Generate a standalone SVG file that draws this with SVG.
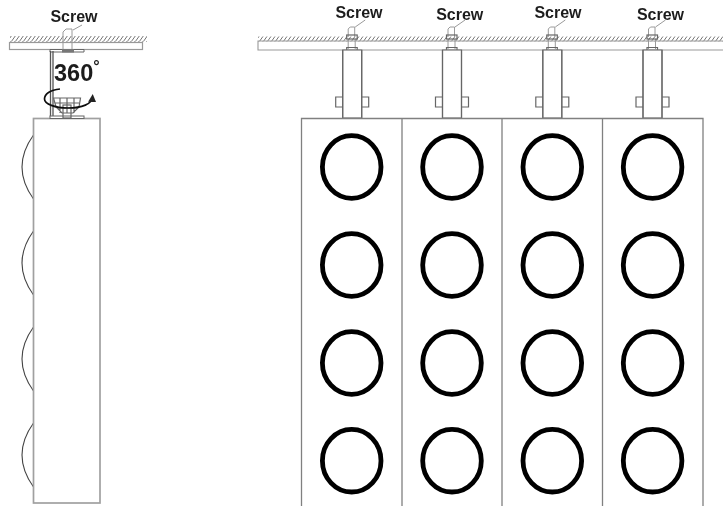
<svg xmlns="http://www.w3.org/2000/svg" xmlns:xlink="http://www.w3.org/1999/xlink" width="723" height="506" viewBox="0 0 723 506">
<defs>
<filter id="soft" x="0" y="0" width="100%" height="100%"><feGaussianBlur stdDeviation="0.45"/></filter>
<pattern id="hatch" width="4" height="5" patternUnits="userSpaceOnUse" patternTransform="translate(0 36)">
<path d="M-1 6L4 -1M3 6L8 -1" stroke="#666" stroke-width="0.9" fill="none"/>
</pattern>
<marker id="arr" markerWidth="9" markerHeight="9" refX="5" refY="4.500" orient="auto" markerUnits="userSpaceOnUse">
<path d="M0 0.500L8 4.500L0 8.500Z" fill="#222"/>
</marker>
<g id="mount">
<path class="t" d="M-4 -4V-12L-2 -14H2.500V-4M-4 -2V8M3 -2V8M3 -14L13 -21"/>
<rect class="s" x="-5.500" y="-6" width="10.500" height="4"/>
<path class="s" d="M-5.500 9V6.500H5V9"/>
<rect class="w" x="-9.500" y="9" width="19" height="68"/>
<path class="s" d="M-9.500 9V77M9.500 9V77" stroke-width="1.800"/>
<path class="s" d="M-9.500 56H-16.500V66H-9.500M9.500 56H16.500V66H9.500"/>
</g>
<g id="lens"><ellipse class="l" rx="29.300" ry="31.300"/></g>
</defs>
<style>
text{font-family:"Liberation Sans",Arial,sans-serif;font-weight:700;fill:#1e1e1e}
.lb{font-size:16px}
.s{fill:none;stroke:#666;stroke-width:1.200}
.t{fill:none;stroke:#9a9a9a;stroke-width:1}
.w{fill:#fff;stroke:#777;stroke-width:1.200}
.p{fill:none;stroke:#808080;stroke-width:1.300}
.l{fill:#fff;stroke:#000;stroke-width:4.800}
.d{fill:none;stroke:#444;stroke-width:1.100}
</style>
<g filter="url(#soft)">
<rect width="723" height="506" fill="#fff"/>
<g id="left-ceiling">
<rect x="10" y="36" width="137" height="6" fill="url(#hatch)"/>
<rect x="9.500" y="42.500" width="133" height="7" fill="#fff" stroke="#999" stroke-width="1.200"/>
</g>

<g id="left-fixture">
<path class="d" d="M33.500 135Q10.500 167 33.500 199M33.500 231Q10.500 263 33.500 295M33.500 327Q10.500 359 33.500 391M33.500 423Q10.500 455 33.500 487"/>
<rect x="33.500" y="118.500" width="66.500" height="384.500" fill="#fff" stroke="#a0a0a0" stroke-width="1.700"/>
</g>

<g id="left-bracket">
<path class="t" d="M63 49V32L66 29H72V49M73 30L82 25"/>
<path d="M50 49.500H84V52H50Z" fill="#fff" stroke="#666" stroke-width="1"/>
<rect x="62" y="49" width="12" height="3.500" fill="#777"/>
<path d="M50.500 51V117M53 51V117" stroke="#555" stroke-width="1.300" fill="none"/>
<rect x="50" y="116" width="34" height="2.500" fill="#fff" stroke="#666" stroke-width="1"/>
<path class="s" d="M53.500 98H80.500L79 107L73 113H62L56 107ZM60 98V113M67 98V113M74 98V113M55 103H79M57 108H78"/>
<rect class="s" x="63" y="105" width="8" height="13"/>
</g>

<g id="connectors">
<path d="M60 89C50 90 44.500 94 44.500 99C44.500 104 55 108 68 108C82 108 92 104 92.500 97" fill="none" stroke="#111" stroke-width="1.700" marker-end="url(#arr)"/>
</g>

<g id="right-ceiling">
<rect x="258" y="36.500" width="465" height="5" fill="url(#hatch)"/>
<path fill="none" stroke="#999" stroke-width="1.100" d="M723 41H258V50H723"/>
</g>

<g id="brackets">
<use id="mount-1" xlink:href="#mount" x="352.200" y="41"/>
<use id="mount-2" xlink:href="#mount" x="452" y="41"/>
<use id="mount-3" xlink:href="#mount" x="552.300" y="41"/>
<use id="mount-4" xlink:href="#mount" x="652.500" y="41"/>
</g>

<g id="panels">
<path class="p" d="M301.500 506V118.500H703V506M402 118.500V506M502 118.500V506M602.500 118.500V506"/>
</g>

<g id="lenses">
<use xlink:href="#lens" x="351.700" y="167"/><use xlink:href="#lens" x="452" y="167"/><use xlink:href="#lens" x="552.300" y="167"/><use xlink:href="#lens" x="652.600" y="167"/>
<use xlink:href="#lens" x="351.700" y="265"/><use xlink:href="#lens" x="452" y="265"/><use xlink:href="#lens" x="552.300" y="265"/><use xlink:href="#lens" x="652.600" y="265"/>
<use xlink:href="#lens" x="351.700" y="363"/><use xlink:href="#lens" x="452" y="363"/><use xlink:href="#lens" x="552.300" y="363"/><use xlink:href="#lens" x="652.600" y="363"/>
<use xlink:href="#lens" x="351.700" y="460.700"/><use xlink:href="#lens" x="452" y="460.700"/><use xlink:href="#lens" x="552.300" y="460.700"/><use xlink:href="#lens" x="652.600" y="460.700"/>
</g>

<g id="labels">
<text class="lb" x="74" y="21.500" text-anchor="middle">Screw</text>
<text class="lb" x="359" y="18.300" text-anchor="middle">Screw</text>
<text class="lb" x="459.700" y="20" text-anchor="middle">Screw</text>
<text class="lb" x="558" y="18.300" text-anchor="middle">Screw</text>
<text class="lb" x="660.500" y="20" text-anchor="middle">Screw</text>
<text x="54" y="80.500" font-size="23.500">360<tspan font-size="16" dy="-9">°</tspan></text>
</g>
</g>
</svg>
